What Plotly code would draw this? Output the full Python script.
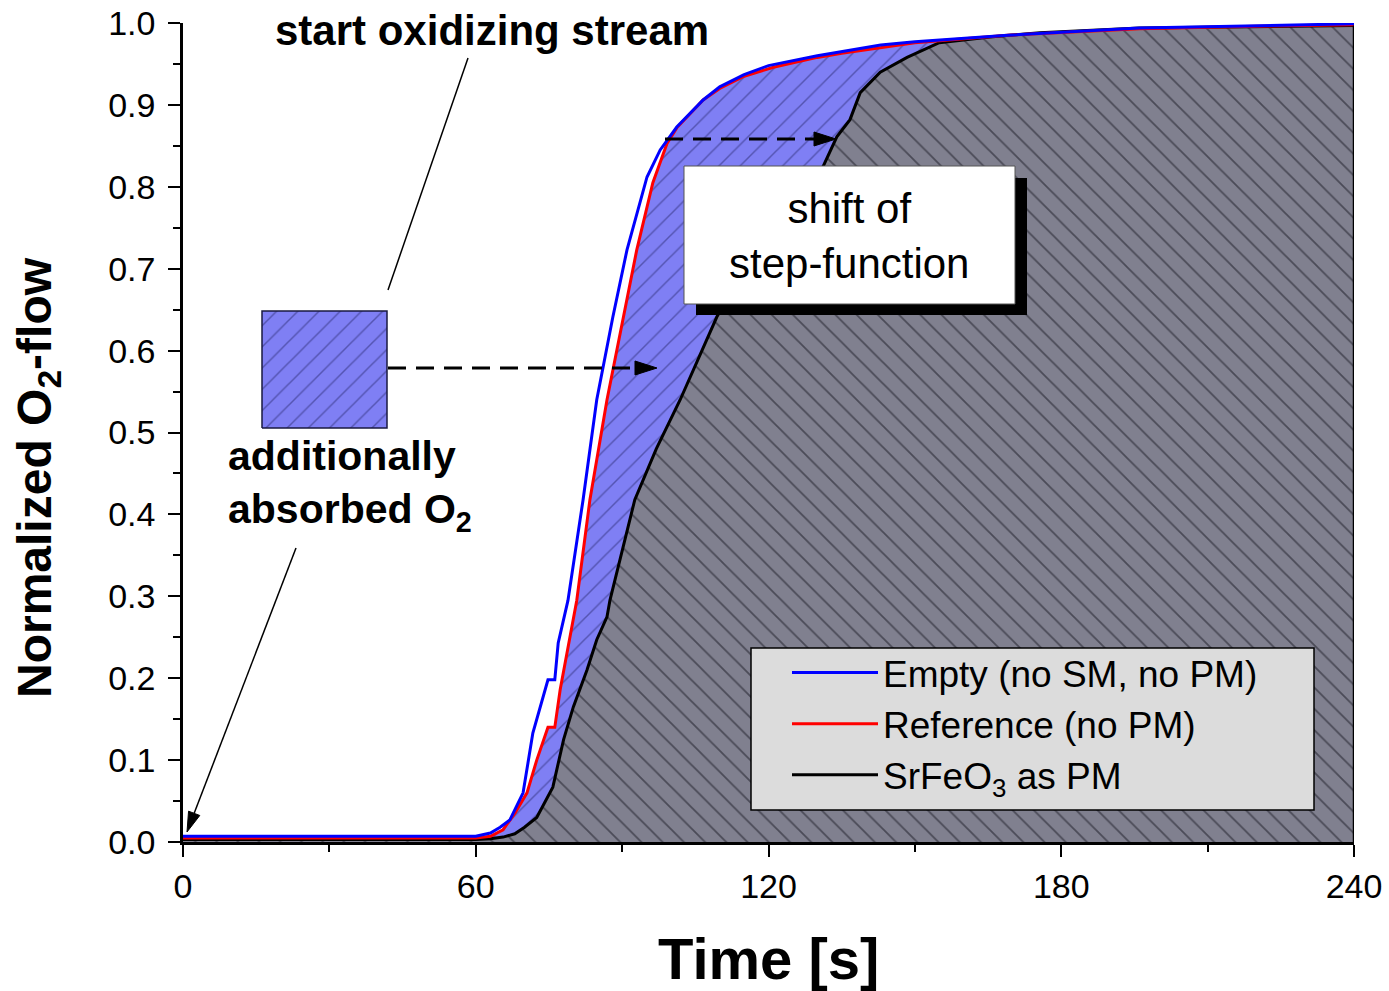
import math
import plotly.graph_objects as go

# ---------------- data ----------------
t_empty = [0, 60, 63, 65, 67, 69.7, 71.7, 74.8, 76.2, 76.9, 78.9, 82, 84.8, 88.1, 91, 95.1, 97.8,
           101.2, 106.6, 110, 115, 120, 130, 135, 143, 150, 169, 196, 220, 240]
v_empty = [0.007, 0.007, 0.011, 0.018, 0.027, 0.06, 0.133, 0.198, 0.198, 0.243, 0.295, 0.418, 0.54,
           0.641, 0.723, 0.812, 0.845, 0.873, 0.906, 0.922, 0.937, 0.948, 0.96, 0.965, 0.973, 0.977,
           0.985, 0.994, 0.997, 0.999]

t_ref = [0, 60, 63, 65.6, 68, 70.5, 72.5, 74.8, 76.2, 77.3, 80.7, 83.4, 86.9, 89.6, 93, 96.3, 99.2,
         101.2, 106.6, 110, 115, 121, 130, 135, 143, 150, 169, 196, 220, 240]
v_ref = [0.005, 0.005, 0.007, 0.015, 0.035, 0.06, 0.1, 0.14, 0.14, 0.186, 0.295, 0.418, 0.54, 0.621,
         0.723, 0.805, 0.853, 0.872, 0.906, 0.92, 0.935, 0.946, 0.958, 0.963, 0.97, 0.976, 0.985,
         0.993, 0.996, 0.998]

t_pm = [0, 60, 63, 65.6, 68, 70, 72.5, 75.8, 78, 80, 82.8, 84.8, 86.9, 87.5, 92.6, 97, 101.9, 109.4,
        115, 120, 125, 131.2, 134, 136.7, 138.8, 142.9, 148.4, 155, 165.4, 175.6, 196, 216.6, 240]
v_pm = [0.003, 0.003, 0.004, 0.006, 0.01, 0.018, 0.03, 0.067, 0.125, 0.165, 0.21, 0.247, 0.275, 0.295,
        0.418, 0.48, 0.54, 0.641, 0.70, 0.745, 0.785, 0.825, 0.861, 0.882, 0.915, 0.94, 0.958, 0.976,
        0.983, 0.988, 0.994, 0.995, 0.997]

x_ticks = [0, 60, 120, 180, 240]
series_names = ["Empty (no SM, no PM)", "Reference (no PM)", "SrFeO<sub>3</sub> as PM"]

# ---------------- layout helpers (pixel -> data/paper, for decorations) ----------------
L, R, T, B = 183, 1354, 23, 842
W, H = 1389, 991


def tx(px):
    return (px - L) / (R - L) * 240.0


def vy(py):
    return (B - py) / (B - T)


def px_x(px):
    return (px - L) / (R - L)


def px_y(py):
    return (B - py) / (B - T)


def arrow_head(tip, tail, length, half_w):
    """Triangle path (paper coords) for an arrowhead at `tip` pointing away from `tail` (pixels)."""
    dx, dy = tip[0] - tail[0], tip[1] - tail[1]
    n = math.hypot(dx, dy)
    ux, uy = dx / n, dy / n
    bx, by = tip[0] - length * ux, tip[1] - length * uy
    px_, py_ = -uy, ux
    p1 = (bx + half_w * px_, by + half_w * py_)
    p2 = (bx - half_w * px_, by - half_w * py_)
    pts = [tip, p1, p2]
    path = "M " + " L ".join(f"{px_x(p[0]):.5f},{px_y(p[1]):.5f}" for p in pts) + " Z"
    return path, (bx, by)


BLUE_FILL = "#7F7FF4"
BLUE_HATCH = "#2a2a70"
GRAY_FILL = "#80808F"
GRAY_HATCH = "#15151f"

fig = go.Figure()

# gray hatched area under the SrFeO3 curve
fig.add_trace(go.Scatter(
    x=t_pm, y=v_pm, mode="lines", line=dict(width=0), fill="tozeroy",
    fillcolor=GRAY_FILL,
    fillpattern=dict(shape="\\", bgcolor=GRAY_FILL, fgcolor=GRAY_HATCH, size=15, solidity=0.12),
    showlegend=False, hoverinfo="skip"))

# blue hatched area between reference and SrFeO3 curves
fig.add_trace(go.Scatter(
    x=t_ref + t_pm[::-1], y=v_ref + v_pm[::-1], mode="lines", line=dict(width=0),
    fill="toself", fillcolor=BLUE_FILL,
    fillpattern=dict(shape="/", bgcolor=BLUE_FILL, fgcolor=BLUE_HATCH, size=15, solidity=0.1),
    showlegend=False, hoverinfo="skip"))

# blue hatched sample square
sq_x0, sq_x1, sq_y0, sq_y1 = tx(262), tx(387), vy(428), vy(311)
fig.add_trace(go.Scatter(
    x=[sq_x0, sq_x1, sq_x1, sq_x0, sq_x0], y=[sq_y0, sq_y0, sq_y1, sq_y1, sq_y0],
    mode="lines", line=dict(width=1.5, color="#1a1a40"), fill="toself", fillcolor=BLUE_FILL,
    fillpattern=dict(shape="/", bgcolor=BLUE_FILL, fgcolor=BLUE_HATCH, size=15, solidity=0.1),
    showlegend=False, hoverinfo="skip"))

# lines
fig.add_trace(go.Scatter(x=t_pm, y=v_pm, mode="lines", name=series_names[2],
                         line=dict(color="black", width=3), legendrank=3))
fig.add_trace(go.Scatter(x=t_ref, y=v_ref, mode="lines", name=series_names[1],
                         line=dict(color="#FF0000", width=3), legendrank=2))
fig.add_trace(go.Scatter(x=t_empty, y=v_empty, mode="lines", name=series_names[0],
                         line=dict(color="#0000FF", width=3), legendrank=1))

shapes = []
# right edge of the gray area
shapes.append(dict(type="line", xref="x", yref="y", x0=t_pm[-1], x1=t_pm[-1], y0=0, y1=v_pm[-1],
                   line=dict(color="black", width=2.5)))

# dashed arrows with solid heads
for (x_start, x_tip, y_px) in [(388, 657, 368), (665, 836, 139)]:
    path, base = arrow_head((x_tip, y_px), (x_start, y_px), 22, 7)
    shapes.append(dict(type="line", xref="paper", yref="paper", x0=px_x(x_start), x1=px_x(base[0] + 1),
                       y0=px_y(y_px), y1=px_y(y_px),
                       line=dict(color="black", width=3, dash="18px,10px")))
    shapes.append(dict(type="path", xref="paper", yref="paper", path=path, fillcolor="black",
                       line=dict(color="black", width=1)))

# thin arrow pointing to the origin
path, base = arrow_head((187, 832), (296, 548), 20, 6)
shapes.append(dict(type="line", xref="paper", yref="paper", x0=px_x(296), y0=px_y(548),
                   x1=px_x(base[0]), y1=px_y(base[1]), line=dict(color="black", width=1.5)))
shapes.append(dict(type="path", xref="paper", yref="paper", path=path, fillcolor="black",
                   line=dict(color="black", width=1)))

# text box with shadow
shapes.append(dict(type="rect", xref="paper", yref="paper", x0=px_x(696), x1=px_x(1027),
                   y0=px_y(315), y1=px_y(178), fillcolor="black", line=dict(width=0), layer="above"))
shapes.append(dict(type="rect", xref="paper", yref="paper", x0=px_x(684), x1=px_x(1015),
                   y0=px_y(304), y1=px_y(166), fillcolor="white", line=dict(width=1, color="#555555"),
                   layer="above"))
# legend box background
shapes.append(dict(type="rect", xref="paper", yref="paper", x0=px_x(751), x1=px_x(1314),
                   y0=px_y(810), y1=px_y(648), fillcolor="#DCDCDC", line=dict(width=1.5, color="black"),
                   layer="above"))
# pointer line for "start oxidizing stream"
shapes.append(dict(type="line", xref="paper", yref="paper", x0=px_x(388), x1=px_x(468),
                   y0=px_y(290), y1=px_y(58), line=dict(color="black", width=1.5)))

annotations = [
    dict(x=px_x(492), y=px_y(31), xref="paper", yref="paper", xanchor="center", yanchor="middle",
         text="<b>start oxidizing stream</b>",
         showarrow=False, font=dict(size=42, color="black")),
    dict(x=px_x(226), y=px_y(485), xref="paper", yref="paper", xanchor="left", yanchor="middle",
         text="<b>additionally<br>absorbed O<sub>2</sub></b>", align="left",
         showarrow=False, font=dict(size=41, color="black")),
    dict(x=px_x(849), y=px_y(236), xref="paper", yref="paper", xanchor="center", yanchor="middle",
         text="shift of<br>step-function", align="center",
         showarrow=False, font=dict(size=42, color="black")),
    # axis titles
    dict(x=px_x(38), y=px_y(478), xref="paper", yref="paper", xanchor="center", yanchor="middle",
         text="<b>Normalized O<sub>2</sub>-flow</b>", textangle=-90,
         showarrow=False, font=dict(size=48, color="black")),
    dict(x=px_x(768), y=px_y(958), xref="paper", yref="paper", xanchor="center", yanchor="middle",
         text="<b>Time [s]</b>",
         showarrow=False, font=dict(size=58, color="black")),
]

fig.update_layout(
    width=W, height=H,
    margin=dict(l=L, r=W - R, t=T, b=H - B, autoexpand=False),
    paper_bgcolor="white", plot_bgcolor="white",
    font=dict(family="Arial, Liberation Sans, sans-serif", color="black"),
    showlegend=True,
    legend=dict(x=px_x(787), y=px_y(642), xanchor="left", yanchor="top",
                bgcolor="rgba(0,0,0,0)", borderwidth=0,
                font=dict(size=37, color="black"), itemwidth=86, tracegroupgap=0),
    shapes=shapes, annotations=annotations,
    xaxis=dict(range=[0, 240], tickvals=x_ticks, ticks="outside", ticklen=12, tickwidth=2,
               tickcolor="black", showline=True, linecolor="black", linewidth=2.5,
               showgrid=False, zeroline=False, tickfont=dict(size=34), automargin=False,
               minor=dict(dtick=30, ticks="outside", ticklen=7, tickwidth=2, tickcolor="black")),
    yaxis=dict(range=[0, 1], dtick=0.1, tickformat=".1f", ticks="outside", ticklen=12, tickwidth=2,
               tickcolor="black", showline=True, linecolor="black", linewidth=2.5,
               showgrid=False, zeroline=False, tickfont=dict(size=34), automargin=False,
               ticklabelstandoff=6,
               minor=dict(dtick=0.05, ticks="outside", ticklen=7, tickwidth=2, tickcolor="black")),
)

fig.write_html("out.html")
